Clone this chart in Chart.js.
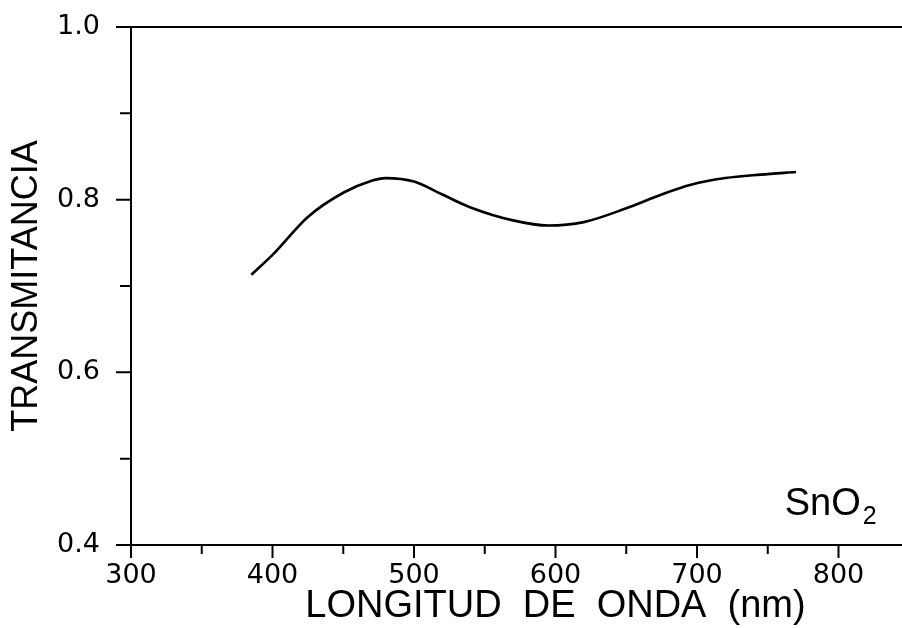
<!DOCTYPE html>
<html><head><meta charset="utf-8">
<script src="https://cdn.jsdelivr.net/npm/chart.js@4"></script>
<style>html,body{margin:0;padding:0;background:#fff;overflow:hidden}#wrap{width:980px;height:628px}</style>
</head><body><div id="wrap"><canvas id="c"></canvas></div>
<script>
// Data
const wavelengths = [385, 400, 425, 450, 470, 480, 500, 520, 540, 570, 595, 620, 650, 675, 695, 720, 745, 770];
const transmittance = [0.713, 0.736, 0.780, 0.808, 0.822, 0.825, 0.821, 0.806, 0.791, 0.776, 0.770, 0.774, 0.790, 0.806, 0.817, 0.825, 0.829, 0.832];
const xTickValues = [300, 350, 400, 450, 500, 550, 600, 650, 700, 750, 800, 850];
const xLabelValues = [300, 400, 500, 600, 700, 800];
const yTickValues = [0.4, 0.5, 0.6, 0.7, 0.8, 0.9, 1.0];
const yLabelValues = [0.4, 0.6, 0.8, 1.0];
const xTitle = 'LONGITUD  DE  ONDA  (nm)';
const yTitle = 'TRANSMITANCIA';
const sampleName = 'SnO';
const sampleSub = '2';
const sampleAt = [762, 0.435];

const isLabelX = v => xLabelValues.some(l => Math.abs(l - v) < 1e-6);
const isLabelY = v => yLabelValues.some(l => Math.abs(l - v) < 1e-6);

const decor = {
  id: 'decor',
  afterDraw(chart) {
    const {ctx, chartArea: {left, top, right, bottom}, scales: {x, y}} = chart;
    ctx.save();
    ctx.strokeStyle = '#000';
    ctx.lineWidth = 2;
    ctx.lineCap = 'butt';
    ctx.beginPath();
    // frame: top, left, bottom
    ctx.moveTo(left - 15, top); ctx.lineTo(right, top);
    ctx.moveTo(left, top); ctx.lineTo(left, bottom);
    ctx.moveTo(left - 15, bottom); ctx.lineTo(right, bottom);
    xTickValues.forEach(v => {
      const px = x.getPixelForValue(v);
      const len = isLabelX(v) ? 13 : 9;
      ctx.moveTo(px, bottom); ctx.lineTo(px, bottom + len);
    });
    yTickValues.forEach(v => {
      const py = y.getPixelForValue(v);
      const len = isLabelY(v) ? 15 : 11;
      ctx.moveTo(left, py); ctx.lineTo(left - len, py);
    });
    ctx.stroke();
    // sample label
    ctx.fillStyle = '#000';
    ctx.textBaseline = 'alphabetic';
    ctx.textAlign = 'left';
    const sx = x.getPixelForValue(sampleAt[0]);
    const sy = y.getPixelForValue(sampleAt[1]);
    ctx.font = '38px "Liberation Sans", Arial, sans-serif';
    ctx.fillText(sampleName, sx, sy);
    const w = ctx.measureText(sampleName).width;
    ctx.font = '25px "Liberation Sans", Arial, sans-serif';
    ctx.fillText(sampleSub, sx + w + 2, sy + 9);
    ctx.restore();
  }
};

new Chart(document.getElementById('c'), {
  type: 'line',
  data: {
    datasets: [{
      data: wavelengths.map((w, i) => ({x: w, y: transmittance[i]})),
      borderColor: '#000',
      borderWidth: 2.6,
      pointRadius: 0,
      fill: false,
      cubicInterpolationMode: 'monotone'
    }]
  },
  options: {
    responsive: true,
    maintainAspectRatio: false,
    animation: false,
    layout: {padding: {top: 27, right: 0, left: 0, bottom: 0}},
    plugins: {legend: {display: false}, tooltip: {enabled: false}},
    scales: {
      x: {
        type: 'linear', min: 300, max: 900,
        afterBuildTicks: s => { s.ticks = xTickValues.map(v => ({value: v})); },
        afterFit: s => { s.height = 83; s.paddingLeft = 0; s.paddingRight = 0; },
        grid: {display: false, drawTicks: false},
        border: {display: false},
        ticks: {
          autoSkip: false, maxRotation: 0, padding: 15, color: '#000',
          font: {family: '"DejaVu Sans", sans-serif', size: 27},
          callback: v => isLabelX(v) ? String(v) : ''
        },
        title: {
          display: true, text: xTitle, color: '#000',
          font: {family: '"Liberation Sans", Arial, sans-serif', size: 38, lineHeight: 1},
          padding: {top: 0, bottom: 2}
        }
      },
      y: {
        type: 'linear', min: 0.4, max: 1.0,
        afterBuildTicks: s => { s.ticks = yTickValues.map(v => ({value: v})); },
        afterFit: s => { s.width = 131; s.paddingTop = 0; s.paddingBottom = 0; },
        grid: {display: false, drawTicks: false},
        border: {display: false},
        ticks: {
          autoSkip: false, padding: 31, color: '#000',
          font: {family: '"DejaVu Sans", sans-serif', size: 27},
          callback: v => isLabelY(v) ? v.toFixed(1) : ''
        },
        title: {
          display: true, text: yTitle, color: '#000',
          font: {family: '"Liberation Sans", Arial, sans-serif', size: 36, lineHeight: 1},
          padding: {top: 9, bottom: 0}
        }
      }
    }
  },
  plugins: [decor]
});
</script>
</body></html>
